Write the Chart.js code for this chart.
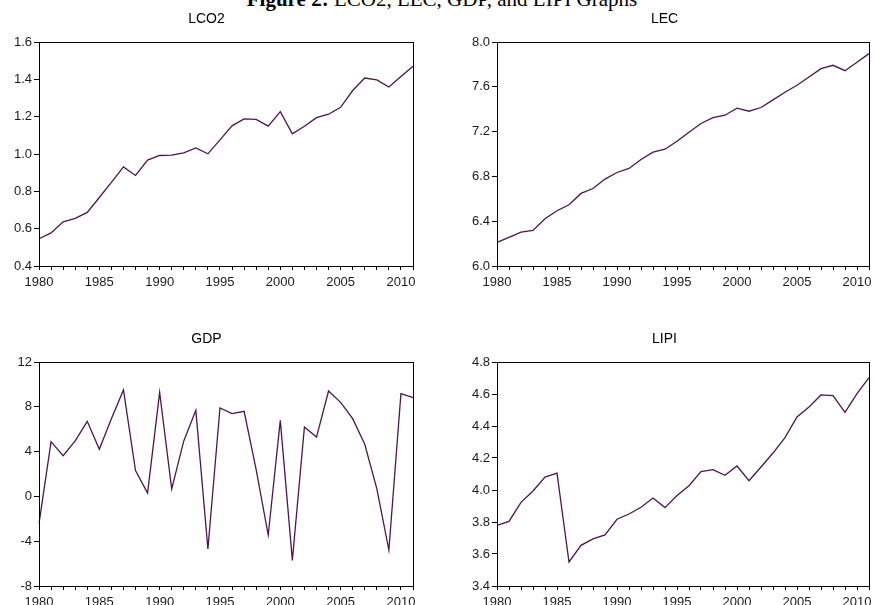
<!DOCTYPE html>
<html>
<head>
<meta charset="utf-8">
<script src="https://cdn.jsdelivr.net/npm/chart.js@4.4.1/dist/chart.umd.min.js"></script>
<style>
  html, body { margin: 0; padding: 0; background: #fff; }
  body { width: 874px; height: 605px; overflow: hidden; position: relative; }
  #fig-title {
    position: absolute; left: 0; width: 884px; top: -11px;
    text-align: center; font-family: "Liberation Serif", "Times New Roman", serif;
    font-size: 21px; line-height: 21px; color: #000; white-space: nowrap;
  }
  .panel { position: absolute; }
</style>
</head>
<body>
<div id="fig-title"><b>Figure 2:</b> LCO2, LEC, GDP, and LIPI Graphs</div>
<div class="panel" style="left:0px;top:0px;width:437px;height:300px"><canvas id="c-lco2"></canvas></div>
<div class="panel" style="left:458px;top:0px;width:416px;height:300px"><canvas id="c-lec"></canvas></div>
<div class="panel" style="left:0px;top:320px;width:437px;height:300px"><canvas id="c-gdp"></canvas></div>
<div class="panel" style="left:458px;top:320px;width:416px;height:300px"><canvas id="c-lipi"></canvas></div>

<script>
// years on the x axis
const years = [1980, 1981, 1982, 1983, 1984, 1985, 1986, 1987, 1988, 1989,
  1990, 1991, 1992, 1993, 1994, 1995, 1996, 1997, 1998, 1999,
  2000, 2001, 2002, 2003, 2004, 2005, 2006, 2007, 2008, 2009, 2010, 2011];
const xTickLabels = [1980, 1985, 1990, 1995, 2000, 2005, 2010];

// series
const lco2 = [0.546, 0.577, 0.637, 0.655, 0.687, 0.767, 0.848, 0.931, 0.885, 0.967,
  0.992, 0.994, 1.006, 1.033, 1.001, 1.076, 1.151, 1.188, 1.185, 1.149,
  1.227, 1.108, 1.149, 1.195, 1.213, 1.250, 1.340, 1.407, 1.397, 1.359, 1.415, 1.470];
const lec = [6.211, 6.256, 6.303, 6.318, 6.422, 6.493, 6.547, 6.648, 6.692, 6.776,
  6.835, 6.871, 6.951, 7.016, 7.043, 7.114, 7.195, 7.272, 7.325, 7.346,
  7.409, 7.382, 7.415, 7.483, 7.551, 7.614, 7.688, 7.762, 7.792, 7.744, 7.819, 7.896];
const gdp = [-2.43, 4.89, 3.64, 4.95, 6.70, 4.20, 6.94, 9.50, 2.30, 0.30,
  9.29, 0.66, 4.95, 7.68, -4.70, 7.89, 7.39, 7.60, 2.40, -3.45,
  6.79, -5.71, 6.20, 5.30, 9.41, 8.40, 6.94, 4.65, 0.69, -4.79, 9.17, 8.82];
const lipi = [3.779, 3.804, 3.923, 3.994, 4.081, 4.106, 3.550, 3.654, 3.694, 3.719,
  3.817, 3.850, 3.892, 3.950, 3.890, 3.965, 4.027, 4.115, 4.127, 4.092,
  4.150, 4.058, 4.144, 4.231, 4.327, 4.456, 4.519, 4.594, 4.590, 4.485, 4.602, 4.702];

// y axis ranges: [min, max, step]
const lco2Axis = [0.4, 1.6, 0.2];
const lecAxis = [6.0, 8.0, 0.4];
const gdpAxis = [-8, 12, 4];
const lipiAxis = [3.4, 4.8, 0.2];

const lineColor = "#4b174d";
const textColor = "#1a1a1a";

// draws a box round the plot area, like the original
const framePlugin = {
  id: "frame",
  afterDraw(chart) {
    const a = chart.chartArea;
    const ctx = chart.ctx;
    ctx.save();
    ctx.strokeStyle = "#000";
    ctx.lineWidth = 1;
    ctx.strokeRect(Math.round(a.left) + 0.5, Math.round(a.top) + 0.5,
      Math.round(a.right - a.left), Math.round(a.bottom - a.top));
    ctx.restore();
  }
};

function makeChart(id, title, values, axis, decimals, rightPad) {
  const ctx = document.getElementById(id).getContext("2d");
  return new Chart(ctx, {
    type: "line",
    data: {
      labels: years,
      datasets: [{
        label: title,
        data: values,
        borderColor: lineColor,
        borderWidth: 1.3,
        pointRadius: 0,
        tension: 0,
        fill: false
      }]
    },
    plugins: [framePlugin],
    options: {
      responsive: true,
      maintainAspectRatio: false,
      animation: false,
      events: [],
      layout: { padding: { left: 0, right: rightPad, top: 0, bottom: 0 } },
      plugins: {
        legend: { display: false },
        tooltip: { enabled: false },
        title: {
          display: true,
          text: title,
          color: "#000",
          font: { family: "'Liberation Sans', Arial, sans-serif", size: 14, weight: "normal", lineHeight: 1.2 },
          padding: { top: 11, bottom: 14.2 }
        }
      },
      scales: {
        x: {
          type: "category",
          offset: false,
          afterFit(scale) { scale.height = 34; },
          grid: { display: true, drawOnChartArea: false, drawTicks: true, tickLength: 4, color: "#000" },
          border: { display: true, color: "#000" },
          ticks: {
            autoSkip: false,
            maxRotation: 0,
            padding: 5,
            color: textColor,
            font: { family: "'Liberation Sans', Arial, sans-serif", size: 13 },
            callback(value, index) {
              const yr = years[index];
              return xTickLabels.includes(yr) ? String(yr) : "";
            }
          }
        },
        y: {
          min: axis[0],
          max: axis[1],
          afterFit(scale) { scale.width = 39; },
          grid: { display: true, drawOnChartArea: false, drawTicks: true, tickLength: 5, color: "#000" },
          border: { display: true, color: "#000" },
          ticks: {
            stepSize: axis[2],
            padding: 2,
            color: textColor,
            font: { family: "'Liberation Sans', Arial, sans-serif", size: 13 },
            callback(v) { return v.toFixed(decimals); }
          }
        }
      }
    }
  });
}

makeChart("c-lco2", "LCO2", lco2, lco2Axis, 1, 24);
makeChart("c-lec", "LEC", lec, lecAxis, 1, 3);
makeChart("c-gdp", "GDP", gdp, gdpAxis, 0, 24);
makeChart("c-lipi", "LIPI", lipi, lipiAxis, 1, 3);
</script>
</body>
</html>
